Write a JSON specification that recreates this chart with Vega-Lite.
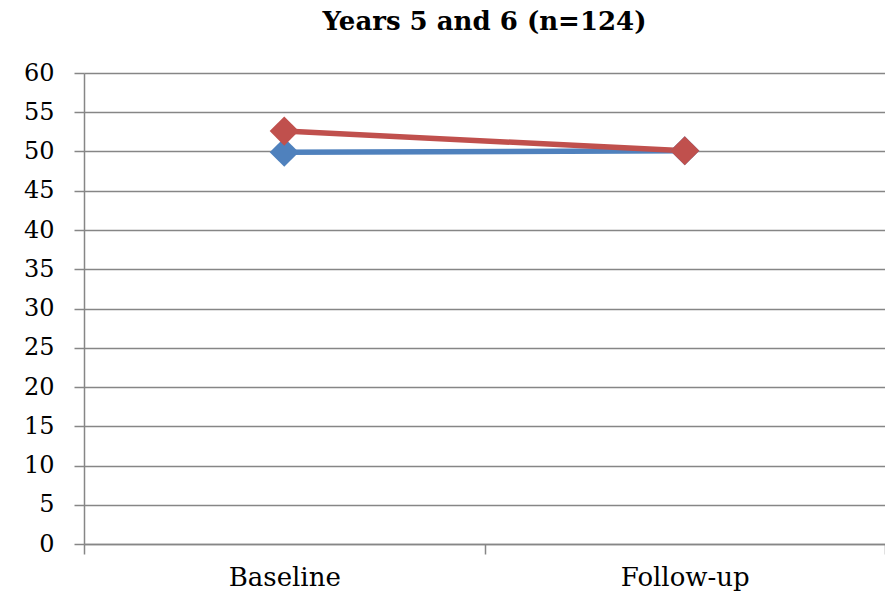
{
  "$schema": "https://vega.github.io/schema/vega-lite/v6.json",
  "width": 801,
  "height": 471,
  "autosize": {"type": "none"},
  "padding": {"left": 84, "top": 73, "right": 0, "bottom": 62},
  "background": "white",
  "title": {"text": "Years 5 and 6 (n=124)", "font": "DejaVu Serif", "fontSize": 26, "fontWeight": "bold", "anchor": "middle", "offset": 26, "color": "#000000"},
  "config": {"view": {"stroke": null}, "font": "DejaVu Serif",
    "axis": {"labelFont": "DejaVu Serif", "labelFontSize": 24, "labelColor": "#000000"}},
  "data": {"values": [
    {"time": "Baseline", "group": "A", "value": 49.9},
    {"time": "Follow-up", "group": "A", "value": 50.1},
    {"time": "Baseline", "group": "B", "value": 52.6},
    {"time": "Follow-up", "group": "B", "value": 50.1}
  ]},
  "encoding": {
    "x": {"field": "time", "type": "nominal", "sort": ["Baseline", "Follow-up"],
      "scale": {"type": "band", "paddingInner": 0, "paddingOuter": 0},
      "axis": {"title": null, "labelAngle": 0, "tickBand": "extent", "labelFontSize": 26,
        "domainColor": "#868686", "domainWidth": 1.5, "tickColor": "#868686", "tickWidth": 1.5, "tickSize": 10, "labelPadding": 10, "grid": false}},
    "y": {"field": "value", "type": "quantitative", "scale": {"domain": [0, 60]},
      "axis": {"title": null, "values": [0, 5, 10, 15, 20, 25, 30, 35, 40, 45, 50, 55, 60],
        "gridColor": "#868686", "gridWidth": 1.5, "domainColor": "#868686", "domainWidth": 1.5, "tickColor": "#868686", "tickWidth": 1.5, "tickSize": 10, "labelPadding": 20}},
    "color": {"field": "group", "type": "nominal", "scale": {"domain": ["A", "B"], "range": ["#4F81BD", "#C0504D"]}, "legend": null}
  },
  "layer": [
    {"mark": {"type": "line", "strokeWidth": 5.5}},
    {"mark": {"type": "point", "shape": "diamond", "filled": true, "size": 850, "opacity": 1}}
  ]
}
